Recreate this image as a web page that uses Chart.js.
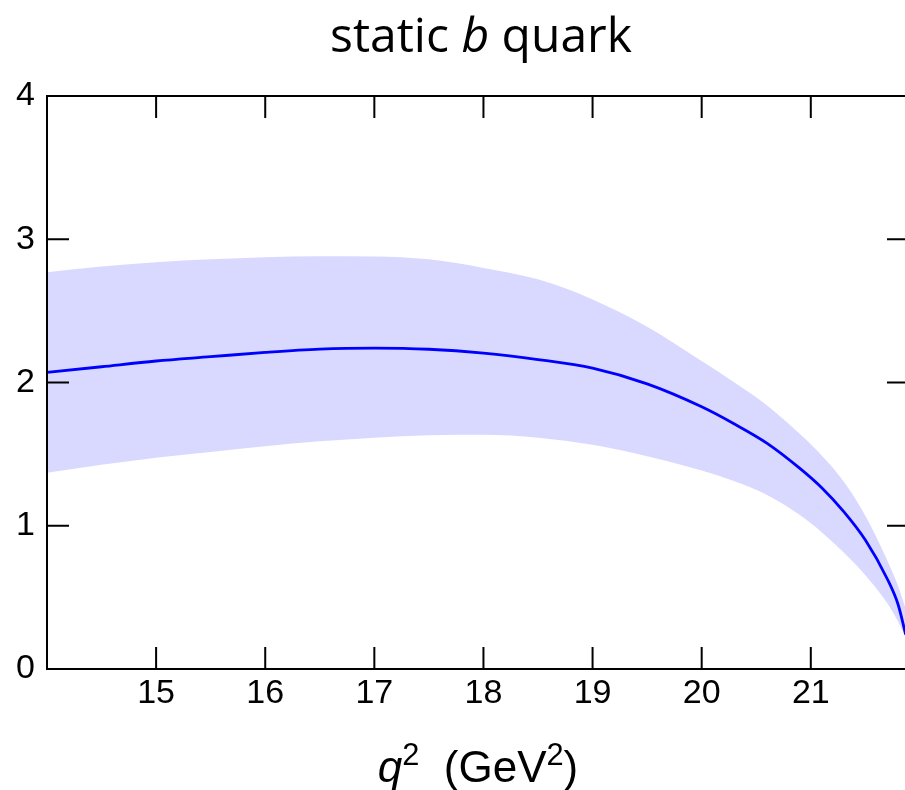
<!DOCTYPE html>
<html>
<head>
<meta charset="utf-8">
<title>static b quark</title>
<script src="https://cdn.jsdelivr.net/npm/chart.js@4/dist/chart.umd.min.js"></script>
<style>
  html, body { margin: 0; padding: 0; background: #fff; overflow: hidden; }
  #wrap { width: 920px; height: 790px; }
</style>
</head>
<body>
<div id="wrap"><canvas id="grafico" width="920" height="790"></canvas></div>
<script>
// q^2 grid (GeV^2)
var q2 = [14.0, 14.5, 15.0, 15.5, 16.0, 16.5, 17.0, 17.5, 18.0, 18.5, 19.0, 19.5, 20.0, 20.3, 20.6, 20.9, 21.1, 21.3, 21.5, 21.7, 21.8, 21.87];
// central value
var central = [2.07, 2.11, 2.15, 2.18, 2.21, 2.233, 2.24, 2.232, 2.205, 2.16, 2.10, 1.99, 1.83, 1.71, 1.575, 1.40, 1.265, 1.10, 0.90, 0.63, 0.45, 0.24];
// band edges
var upper = [2.77, 2.81, 2.84, 2.86, 2.875, 2.882, 2.88, 2.86, 2.80, 2.72, 2.58, 2.39, 2.15, 2.00, 1.84, 1.64, 1.49, 1.31, 1.07, 0.76, 0.58, 0.42];
var lower = [1.37, 1.425, 1.475, 1.515, 1.555, 1.59, 1.615, 1.632, 1.636, 1.615, 1.565, 1.485, 1.385, 1.31, 1.215, 1.075, 0.955, 0.815, 0.655, 0.46, 0.33, 0.22];

var xTicks = [15, 16, 17, 18, 19, 20, 21];
var yTicks = [0, 1, 2, 3, 4];

function pares(ys) {
  var out = [];
  for (var i = 0; i < q2.length; i++) {
    out.push({ x: q2[i], y: ys[i] });
  }
  return out;
}

// draws a row of text pieces (normal / italic / superscript) centred on cx
function textoMixto(ctx, partes, cx, base, size, familia) {
  var anchos = [];
  var total = 0;
  partes.forEach(function (p) {
    var fs = p.sup ? size * 0.7 : size;
    ctx.font = (p.italic ? 'italic ' : '') + fs + 'px ' + familia;
    var w = ctx.measureText(p.t).width;
    anchos.push(w);
    total += w;
  });
  var x = cx - total / 2;
  ctx.textAlign = 'left';
  ctx.textBaseline = 'alphabetic';
  ctx.fillStyle = '#000';
  partes.forEach(function (p, i) {
    var fs = p.sup ? size * 0.7 : size;
    ctx.font = (p.italic ? 'italic ' : '') + fs + 'px ' + familia;
    ctx.fillText(p.t, x, p.sup ? base - size * 0.38 : base);
    x += anchos[i];
  });
}

// frame with inward ticks on all four sides, plus title and axis label
var marco = {
  id: 'marco',
  afterDraw: function (chart) {
    var ctx = chart.ctx;
    var a = chart.chartArea;
    var sx = chart.scales.x;
    var sy = chart.scales.y;
    var largo = 22;
    ctx.save();
    ctx.strokeStyle = '#000';
    ctx.lineWidth = 2;
    ctx.beginPath();
    ctx.rect(a.left, a.top, a.right - a.left, a.bottom - a.top);
    ctx.stroke();
    ctx.beginPath();
    xTicks.forEach(function (v) {
      var px = sx.getPixelForValue(v);
      ctx.moveTo(px, a.bottom);
      ctx.lineTo(px, a.bottom - largo);
      ctx.moveTo(px, a.top);
      ctx.lineTo(px, a.top + largo);
    });
    yTicks.forEach(function (v) {
      var py = sy.getPixelForValue(v);
      ctx.moveTo(a.left, py);
      ctx.lineTo(a.left + largo, py);
      ctx.moveTo(a.right, py);
      ctx.lineTo(a.right - largo, py);
    });
    ctx.stroke();

    textoMixto(ctx, [
      { t: 'static ' },
      { t: 'b', italic: true },
      { t: ' quark' }
    ], 481, 52, 48, '"Open Sans"');

    textoMixto(ctx, [
      { t: 'q', italic: true },
      { t: '2', sup: true },
      { t: '  (GeV' },
      { t: '2', sup: true },
      { t: ')' }
    ], 478, 782, 44, '"Liberation Sans"');
    ctx.restore();
  }
};

var lienzo = document.getElementById('grafico');
var grafico = new Chart(lienzo, {
  type: 'line',
  data: {
    datasets: [
      {
        // central curve, drawn on top of the band
        data: pares(central),
        order: 0,
        borderColor: '#0000ff',
        borderWidth: 2.8,
        pointRadius: 0,
        fill: false,
        cubicInterpolationMode: 'monotone'
      },
      {
        data: pares(upper),
        order: 1,
        borderWidth: 0,
        pointRadius: 0,
        backgroundColor: 'rgb(217, 217, 255)',
        fill: '+1',
        cubicInterpolationMode: 'monotone'
      },
      {
        data: pares(lower),
        order: 1,
        borderWidth: 0,
        pointRadius: 0,
        fill: false,
        cubicInterpolationMode: 'monotone'
      }
    ]
  },
  options: {
    responsive: false,
    animation: false,
    layout: { padding: { left: 0, right: 11, top: 96, bottom: 0 } },
    plugins: {
      legend: { display: false },
      tooltip: { enabled: false }
    },
    scales: {
      x: {
        type: 'linear',
        min: 14.0,
        max: 21.9,
        border: { display: false },
        grid: { display: false, drawTicks: false },
        afterBuildTicks: function (s) {
          s.ticks = xTicks.map(function (v) { return { value: v }; });
        },
        afterFit: function (s) { s.height = 121; },
        ticks: {
          padding: 4,
          color: '#000',
          maxRotation: 0,
          font: { family: '"Liberation Sans"', size: 34 },
          callback: function (v) { return String(v); }
        }
      },
      y: {
        min: 0,
        max: 4,
        border: { display: false },
        grid: { display: false, drawTicks: false },
        afterBuildTicks: function (s) {
          s.ticks = yTicks.map(function (v) { return { value: v }; });
        },
        afterFit: function (s) { s.width = 47; },
        ticks: {
          padding: 12,
          color: '#000',
          font: { family: '"Liberation Sans"', size: 34 },
          callback: function (v) { return String(v); }
        }
      }
    }
  },
  plugins: [marco]
});
</script>
</body>
</html>
